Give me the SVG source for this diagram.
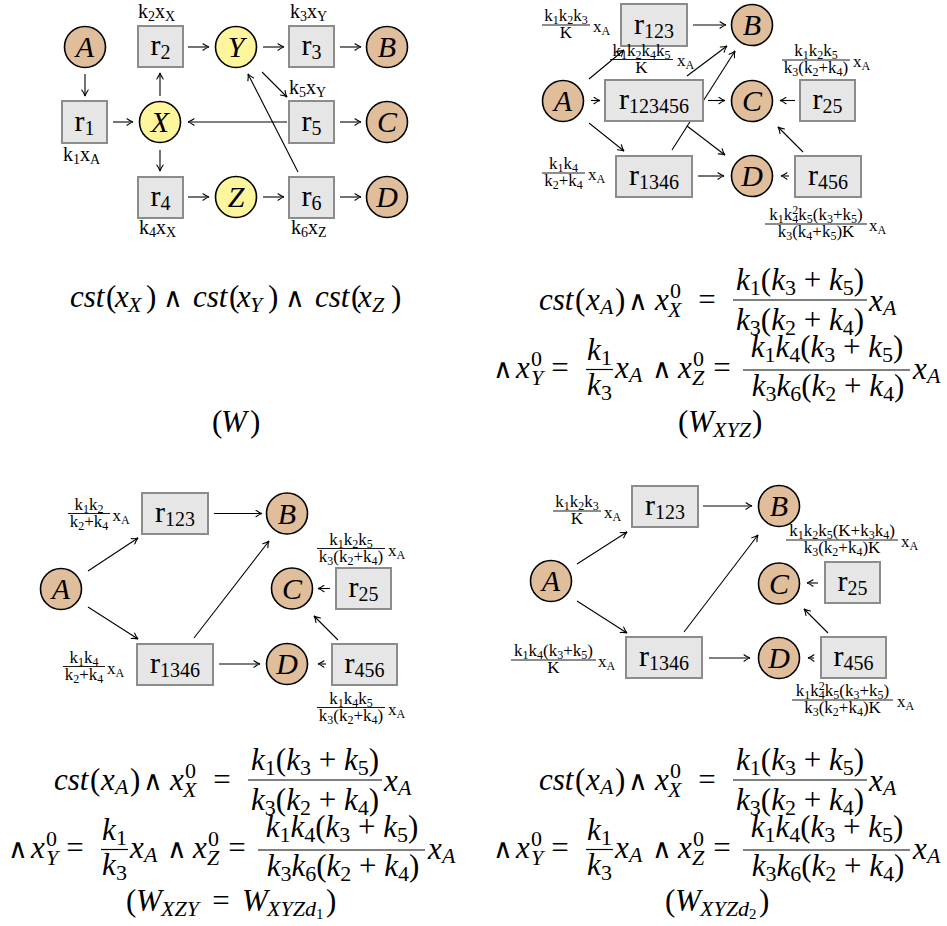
<svg xmlns="http://www.w3.org/2000/svg" width="947" height="926" viewBox="0 0 947 926">
<defs>
<style>
.nc{fill:#e0bd9b;stroke:#000;stroke-width:1.6}
.ny{fill:#fff59c;stroke:#000;stroke-width:1.6}
.box{fill:#e6e6e6;stroke:#8c8c8c;stroke-width:2}
.lt{font-family:"Liberation Serif","Times New Roman",serif;font-style:italic;font-size:30px;text-anchor:middle}
.rl{font-family:"Liberation Serif","Times New Roman",serif;font-size:30px;text-anchor:middle}
.rs{font-size:20px}
.kl{font-family:"Liberation Serif","Times New Roman",serif;font-size:20px}
.ks{font-size:14px}
.f{font-family:"Liberation Serif","Times New Roman",serif;font-size:17px}
.fc{text-anchor:middle}
.fs{font-size:12px}
.m{font-family:"Liberation Serif","Times New Roman",serif;font-size:31px;font-style:italic}
.u{font-style:normal}
.ms{font-size:22px;font-style:normal}
.mi{font-size:22px;font-style:italic}
.mss{font-size:15px;font-style:normal}
.op{font-family:"DejaVu Serif",serif;font-size:27px;text-anchor:middle}
.eq{font-family:"Liberation Serif","Times New Roman",serif;font-size:31px;text-anchor:middle}
.c{fill:none;stroke:#000;stroke-width:1.1;marker-end:url(#ah)}
.bar{stroke:#000;stroke-width:1.2}
.fb{stroke:#000;stroke-width:0.9}
</style>
<marker id="ah" viewBox="-7 -4 8 8" refX="0" refY="0" markerWidth="8" markerHeight="8" markerUnits="userSpaceOnUse" orient="auto">
<path d="M-6,-3.2 Q-2.5,-0.6 0,0 Q-2.5,0.6 -6,3.2" fill="none" stroke="#000" stroke-width="1.1" stroke-linecap="round"/>
</marker>
</defs>

<!-- ===== Connectors ===== -->
<g id="connectors">
<g id="tl-edges">
<line class="c" x1="85" y1="74" x2="85" y2="96"/>
<line class="c" x1="113" y1="122" x2="133" y2="122"/>
<line class="c" x1="160" y1="96" x2="160" y2="73"/>
<line class="c" x1="160" y1="150" x2="160" y2="171"/>
<line class="c" x1="188" y1="47" x2="209" y2="47"/>
<line class="c" x1="263" y1="47" x2="284" y2="47"/>
<line class="c" x1="340" y1="47" x2="361" y2="47"/>
<line class="c" x1="287" y1="122" x2="188" y2="122"/>
<line class="c" x1="340" y1="122" x2="361" y2="122"/>
<line class="c" x1="188" y1="197" x2="209" y2="197"/>
<line class="c" x1="263" y1="197" x2="284" y2="197"/>
<line class="c" x1="340" y1="197" x2="361" y2="197"/>
<line class="c" x1="262" y1="72" x2="287" y2="97"/>
<line class="c" x1="298" y1="172" x2="248" y2="74"/>
</g>
<g id="tr-edges">
<line class="c" x1="693" y1="25" x2="726" y2="25"/>
<line class="c" x1="589" y1="79" x2="624" y2="50"/>
<line class="c" x1="591" y1="100.5" x2="600" y2="100.5"/>
<line class="c" x1="589" y1="123" x2="624" y2="151"/>
<line class="c" x1="687" y1="76" x2="727" y2="46"/>
<line class="c" x1="708" y1="100.5" x2="725" y2="100.5"/>
<line class="c" x1="687" y1="126" x2="725" y2="155"/>
<line class="c" x1="672" y1="150" x2="735" y2="51"/>
<line class="c" x1="698" y1="176" x2="724" y2="176"/>
<line class="c" x1="795" y1="100.5" x2="780" y2="100.5"/>
<line class="c" x1="789" y1="176" x2="781" y2="176"/>
<line class="c" x1="803" y1="152" x2="778" y2="127"/>
</g>
<g id="bl-edges">
<line class="c" x1="214" y1="513.5" x2="262" y2="513.5"/>
<line class="c" x1="88" y1="571" x2="138" y2="538"/>
<line class="c" x1="88" y1="607" x2="138" y2="639"/>
<line class="c" x1="194" y1="638" x2="269" y2="541"/>
<line class="c" x1="219" y1="664" x2="260" y2="664"/>
<line class="c" x1="330" y1="588.5" x2="318" y2="588.5"/>
<line class="c" x1="326" y1="664" x2="318" y2="664"/>
<line class="c" x1="338" y1="640" x2="314" y2="616"/>
</g>
<g id="br-edges">
<line class="c" x1="703" y1="506" x2="752" y2="506"/>
<line class="c" x1="577" y1="564" x2="627" y2="532"/>
<line class="c" x1="577" y1="601" x2="627" y2="633"/>
<line class="c" x1="684" y1="632" x2="758" y2="535"/>
<line class="c" x1="709" y1="658" x2="750" y2="658"/>
<line class="c" x1="818" y1="583" x2="807" y2="583"/>
<line class="c" x1="814" y1="658" x2="808" y2="658"/>
<line class="c" x1="828" y1="633" x2="804" y2="609"/>
</g>
</g>

<!-- ===== Top-left diagram (W) ===== -->
<g id="tl-A"><circle class="nc" cx="85" cy="47" r="20.5"/><text class="lt" x="85" y="57">A</text></g>
<g id="tl-r2"><rect class="box" x="138" y="26" width="45" height="41"/><text class="rl" x="160.5" y="55">r<tspan class="rs" dy="4">2</tspan></text>
<text class="kl" x="138" y="18">k<tspan class="ks" dy="3">2</tspan><tspan dy="-3">x</tspan><tspan class="ks" dy="3">X</tspan></text></g>
<g id="tl-Y"><circle class="ny" cx="236" cy="47" r="20.5"/><text class="lt" x="236" y="57">Y</text></g>
<g id="tl-r3"><rect class="box" x="289" y="26" width="45" height="41"/><text class="rl" x="311.5" y="55">r<tspan class="rs" dy="4">3</tspan></text>
<text class="kl" x="290" y="18">k<tspan class="ks" dy="3">3</tspan><tspan dy="-3">x</tspan><tspan class="ks" dy="3">Y</tspan></text></g>
<g id="tl-B"><circle class="nc" cx="387" cy="47" r="20.5"/><text class="lt" x="387" y="57">B</text></g>
<g id="tl-r1"><rect class="box" x="62" y="101" width="45" height="42"/><text class="rl" x="84.5" y="130.5">r<tspan class="rs" dy="4">1</tspan></text>
<text class="kl" x="63" y="161">k<tspan class="ks" dy="3">1</tspan><tspan dy="-3">x</tspan><tspan class="ks" dy="3">A</tspan></text></g>
<g id="tl-X"><circle class="ny" cx="160" cy="122" r="20.5"/><text class="lt" x="160" y="132">X</text></g>
<g id="tl-r5"><rect class="box" x="289" y="101" width="45" height="42"/><text class="rl" x="311.5" y="130.5">r<tspan class="rs" dy="4">5</tspan></text>
<text class="kl" x="289" y="94">k<tspan class="ks" dy="3">5</tspan><tspan dy="-3">x</tspan><tspan class="ks" dy="3">Y</tspan></text></g>
<g id="tl-C"><circle class="nc" cx="387" cy="122" r="20.5"/><text class="lt" x="387" y="132">C</text></g>
<g id="tl-r4"><rect class="box" x="138" y="177" width="45" height="41"/><text class="rl" x="160.5" y="206">r<tspan class="rs" dy="4">4</tspan></text>
<text class="kl" x="139" y="234">k<tspan class="ks" dy="3">4</tspan><tspan dy="-3">x</tspan><tspan class="ks" dy="3">X</tspan></text></g>
<g id="tl-Z"><circle class="ny" cx="236" cy="197" r="20.5"/><text class="lt" x="236" y="207">Z</text></g>
<g id="tl-r6"><rect class="box" x="289" y="177" width="45" height="41"/><text class="rl" x="311.5" y="206">r<tspan class="rs" dy="4">6</tspan></text>
<text class="kl" x="291" y="234">k<tspan class="ks" dy="3">6</tspan><tspan dy="-3">x</tspan><tspan class="ks" dy="3">Z</tspan></text></g>
<g id="tl-D"><circle class="nc" cx="387" cy="197" r="20.5"/><text class="lt" x="387" y="207">D</text></g>

<g id="tl-formula">
<text class="m" y="307"><tspan x="70">cst</tspan><tspan x="106" class="u">(</tspan><tspan x="115">x</tspan><tspan x="128" y="312" class="mi">X</tspan><tspan x="146" y="307" class="u">)</tspan></text>
<text class="op" x="173" y="307">∧</text>
<text class="m" y="307"><tspan x="193">cst</tspan><tspan x="229" class="u">(</tspan><tspan x="237">x</tspan><tspan x="250" y="312" class="mi">Y</tspan><tspan x="268" y="307" class="u">)</tspan></text>
<text class="op" x="295" y="307">∧</text>
<text class="m" y="307"><tspan x="315">cst</tspan><tspan x="351" class="u">(</tspan><tspan x="358">x</tspan><tspan x="372" y="312" class="mi">Z</tspan><tspan x="391" y="307" class="u">)</tspan></text>
<text class="m" y="432"><tspan x="212" class="u">(</tspan><tspan x="221">W</tspan><tspan x="250" class="u">)</tspan></text>
</g>

<!-- ===== Top-right diagram (W_XYZ) ===== -->
<g id="tr-r123"><rect class="box" x="621" y="4" width="66" height="42"/><text class="rl" x="654" y="33.5">r<tspan class="rs" dy="4">123</tspan></text>
<line class="fb" x1="542" y1="25" x2="590" y2="25"/>
<text class="f fc" x="566" y="21">k<tspan class="fs" dy="3">1</tspan><tspan dy="-3">k</tspan><tspan class="fs" dy="3">2</tspan><tspan dy="-3">k</tspan><tspan class="fs" dy="3">3</tspan></text>
<text class="f fc" x="566" y="38">K</text>
<text class="f" x="593" y="32">x<tspan class="fs" dy="3">A</tspan></text></g>
<g id="tr-B"><circle class="nc" cx="752" cy="25" r="20.5"/><text class="lt" x="752" y="35">B</text></g>
<g id="tr-A"><circle class="nc" cx="563" cy="101" r="20.5"/><text class="lt" x="563" y="111">A</text></g>
<g id="tr-r123456"><rect class="box" x="605" y="80" width="98" height="41"/><text class="rl" x="654" y="109">r<tspan class="rs" dy="4">123456</tspan></text>
<line class="fb" x1="610" y1="59.5" x2="673" y2="59.5"/>
<text class="f fc" x="641.5" y="55.5">k<tspan class="fs" dy="3">1</tspan><tspan dy="-3">k</tspan><tspan class="fs" dy="3">2</tspan><tspan dy="-3">k</tspan><tspan class="fs" dy="3">4</tspan><tspan dy="-3">k</tspan><tspan class="fs" dy="3">5</tspan></text>
<text class="f fc" x="641.5" y="72.5">K</text>
<text class="f" x="677" y="66">x<tspan class="fs" dy="3">A</tspan></text></g>
<g id="tr-C"><circle class="nc" cx="752" cy="101" r="20.5"/><text class="lt" x="752" y="111">C</text></g>
<g id="tr-r25"><rect class="box" x="800" y="80" width="55" height="41"/><text class="rl" x="827.5" y="109">r<tspan class="rs" dy="4">25</tspan></text>
<line class="fb" x1="782" y1="60" x2="850" y2="60"/>
<text class="f fc" x="816" y="56">k<tspan class="fs" dy="3">1</tspan><tspan dy="-3">k</tspan><tspan class="fs" dy="3">2</tspan><tspan dy="-3">k</tspan><tspan class="fs" dy="3">5</tspan></text>
<text class="f fc" x="816" y="73">k<tspan class="fs" dy="3">3</tspan><tspan dy="-3">(k</tspan><tspan class="fs" dy="3">2</tspan><tspan dy="-3">+k</tspan><tspan class="fs" dy="3">4</tspan><tspan dy="-3">)</tspan></text>
<text class="f" x="853" y="67">x<tspan class="fs" dy="3">A</tspan></text></g>
<g id="tr-r1346"><rect class="box" x="616" y="156" width="76" height="41"/><text class="rl" x="654" y="185">r<tspan class="rs" dy="4">1346</tspan></text>
<line class="fb" x1="542" y1="173" x2="585" y2="173"/>
<text class="f fc" x="563.5" y="169">k<tspan class="fs" dy="3">1</tspan><tspan dy="-3">k</tspan><tspan class="fs" dy="3">4</tspan></text>
<text class="f fc" x="563.5" y="186">k<tspan class="fs" dy="3">2</tspan><tspan dy="-3">+k</tspan><tspan class="fs" dy="3">4</tspan></text>
<text class="f" x="588" y="180">x<tspan class="fs" dy="3">A</tspan></text></g>
<g id="tr-D"><circle class="nc" cx="752" cy="176" r="20.5"/><text class="lt" x="752" y="186">D</text></g>
<g id="tr-r456"><rect class="box" x="795" y="156" width="66" height="41"/><text class="rl" x="828" y="185">r<tspan class="rs" dy="4">456</tspan></text>
<line class="fb" x1="765" y1="224" x2="867" y2="224"/>
<text class="f fc" x="816" y="220">k<tspan class="fs" dy="3">1</tspan><tspan dy="-3">k</tspan><tspan class="fs" dy="3">4</tspan><tspan class="fs" dx="-6" dy="-9">2</tspan><tspan dy="6">k</tspan><tspan class="fs" dy="3">5</tspan><tspan dy="-3">(k</tspan><tspan class="fs" dy="3">3</tspan><tspan dy="-3">+k</tspan><tspan class="fs" dy="3">5</tspan><tspan dy="-3">)</tspan></text>
<text class="f fc" x="816" y="237">k<tspan class="fs" dy="3">3</tspan><tspan dy="-3">(k</tspan><tspan class="fs" dy="3">4</tspan><tspan dy="-3">+k</tspan><tspan class="fs" dy="3">5</tspan><tspan dy="-3">)K</tspan></text>
<text class="f" x="869" y="231">x<tspan class="fs" dy="3">A</tspan></text></g>

<!-- ===== Bottom-left diagram ===== -->
<g id="bl-r123"><rect class="box" x="142" y="493" width="66" height="41"/><text class="rl" x="175" y="522">r<tspan class="rs" dy="4">123</tspan></text>
<line class="fb" x1="68" y1="513.5" x2="110" y2="513.5"/>
<text class="f fc" x="89" y="509.5">k<tspan class="fs" dy="3">1</tspan><tspan dy="-3">k</tspan><tspan class="fs" dy="3">2</tspan></text>
<text class="f fc" x="89" y="526.5">k<tspan class="fs" dy="3">2</tspan><tspan dy="-3">+k</tspan><tspan class="fs" dy="3">4</tspan></text>
<text class="f" x="112.5" y="520.5">x<tspan class="fs" dy="3">A</tspan></text></g>
<g id="bl-B"><circle class="nc" cx="287" cy="513.5" r="20.5"/><text class="lt" x="287" y="523.5">B</text></g>
<g id="bl-A"><circle class="nc" cx="61" cy="589" r="20.5"/><text class="lt" x="61" y="599">A</text></g>
<g id="bl-C"><circle class="nc" cx="292" cy="588.5" r="20.5"/><text class="lt" x="292" y="598.5">C</text></g>
<g id="bl-r25"><rect class="box" x="336" y="568" width="55" height="41"/><text class="rl" x="363.5" y="597">r<tspan class="rs" dy="4">25</tspan></text>
<line class="fb" x1="317" y1="548.5" x2="385" y2="548.5"/>
<text class="f fc" x="351" y="544.5">k<tspan class="fs" dy="3">1</tspan><tspan dy="-3">k</tspan><tspan class="fs" dy="3">2</tspan><tspan dy="-3">k</tspan><tspan class="fs" dy="3">5</tspan></text>
<text class="f fc" x="351" y="561.5">k<tspan class="fs" dy="3">3</tspan><tspan dy="-3">(k</tspan><tspan class="fs" dy="3">2</tspan><tspan dy="-3">+k</tspan><tspan class="fs" dy="3">4</tspan><tspan dy="-3">)</tspan></text>
<text class="f" x="388" y="555.5">x<tspan class="fs" dy="3">A</tspan></text></g>
<g id="bl-r1346"><rect class="box" x="137" y="644" width="76" height="41"/><text class="rl" x="175" y="673">r<tspan class="rs" dy="4">1346</tspan></text>
<line class="fb" x1="63" y1="666.5" x2="105" y2="666.5"/>
<text class="f fc" x="84" y="662.5">k<tspan class="fs" dy="3">1</tspan><tspan dy="-3">k</tspan><tspan class="fs" dy="3">4</tspan></text>
<text class="f fc" x="84" y="679.5">k<tspan class="fs" dy="3">2</tspan><tspan dy="-3">+k</tspan><tspan class="fs" dy="3">4</tspan></text>
<text class="f" x="107" y="673.5">x<tspan class="fs" dy="3">A</tspan></text></g>
<g id="bl-D"><circle class="nc" cx="287" cy="664" r="20.5"/><text class="lt" x="287" y="674">D</text></g>
<g id="bl-r456"><rect class="box" x="332" y="644" width="65" height="41"/><text class="rl" x="364.5" y="673">r<tspan class="rs" dy="4">456</tspan></text>
<line class="fb" x1="317" y1="707.5" x2="385" y2="707.5"/>
<text class="f fc" x="351" y="703.5">k<tspan class="fs" dy="3">1</tspan><tspan dy="-3">k</tspan><tspan class="fs" dy="3">4</tspan><tspan dy="-3">k</tspan><tspan class="fs" dy="3">5</tspan></text>
<text class="f fc" x="351" y="720.5">k<tspan class="fs" dy="3">3</tspan><tspan dy="-3">(k</tspan><tspan class="fs" dy="3">2</tspan><tspan dy="-3">+k</tspan><tspan class="fs" dy="3">4</tspan><tspan dy="-3">)</tspan></text>
<text class="f" x="388" y="714.5">x<tspan class="fs" dy="3">A</tspan></text></g>

<!-- ===== Bottom-right diagram ===== -->
<g id="br-r123"><rect class="box" x="632" y="486" width="66" height="41"/><text class="rl" x="665" y="515">r<tspan class="rs" dy="4">123</tspan></text>
<line class="fb" x1="553" y1="511" x2="601" y2="511"/>
<text class="f fc" x="577" y="507">k<tspan class="fs" dy="3">1</tspan><tspan dy="-3">k</tspan><tspan class="fs" dy="3">2</tspan><tspan dy="-3">k</tspan><tspan class="fs" dy="3">3</tspan></text>
<text class="f fc" x="577" y="524">K</text>
<text class="f" x="604" y="518">x<tspan class="fs" dy="3">A</tspan></text></g>
<g id="br-B"><circle class="nc" cx="779" cy="506" r="20.5"/><text class="lt" x="779" y="516">B</text></g>
<g id="br-A"><circle class="nc" cx="551" cy="581" r="20.5"/><text class="lt" x="551" y="591">A</text></g>
<g id="br-C"><circle class="nc" cx="779" cy="583.5" r="20.5"/><text class="lt" x="779" y="593.5">C</text></g>
<g id="br-r25"><rect class="box" x="825" y="562" width="55" height="41"/><text class="rl" x="852.5" y="591">r<tspan class="rs" dy="4">25</tspan></text>
<line class="fb" x1="786" y1="540" x2="898" y2="540"/>
<text class="f fc" x="842" y="536">k<tspan class="fs" dy="3">1</tspan><tspan dy="-3">k</tspan><tspan class="fs" dy="3">2</tspan><tspan dy="-3">k</tspan><tspan class="fs" dy="3">5</tspan><tspan dy="-3">(K+k</tspan><tspan class="fs" dy="3">3</tspan><tspan dy="-3">k</tspan><tspan class="fs" dy="3">4</tspan><tspan dy="-3">)</tspan></text>
<text class="f fc" x="842" y="553">k<tspan class="fs" dy="3">3</tspan><tspan dy="-3">(k</tspan><tspan class="fs" dy="3">2</tspan><tspan dy="-3">+k</tspan><tspan class="fs" dy="3">4</tspan><tspan dy="-3">)K</tspan></text>
<text class="f" x="901" y="547">x<tspan class="fs" dy="3">A</tspan></text></g>
<g id="br-r1346"><rect class="box" x="626" y="637" width="76" height="41"/><text class="rl" x="664" y="666">r<tspan class="rs" dy="4">1346</tspan></text>
<line class="fb" x1="511" y1="660" x2="596" y2="660"/>
<text class="f fc" x="553.5" y="656">k<tspan class="fs" dy="3">1</tspan><tspan dy="-3">k</tspan><tspan class="fs" dy="3">4</tspan><tspan dy="-3">(k</tspan><tspan class="fs" dy="3">3</tspan><tspan dy="-3">+k</tspan><tspan class="fs" dy="3">5</tspan><tspan dy="-3">)</tspan></text>
<text class="f fc" x="553.5" y="673">K</text>
<text class="f" x="598" y="667">x<tspan class="fs" dy="3">A</tspan></text></g>
<g id="br-D"><circle class="nc" cx="779" cy="658" r="20.5"/><text class="lt" x="779" y="668">D</text></g>
<g id="br-r456"><rect class="box" x="821" y="637" width="65" height="41"/><text class="rl" x="853.5" y="666">r<tspan class="rs" dy="4">456</tspan></text>
<line class="fb" x1="792" y1="700" x2="893" y2="700"/>
<text class="f fc" x="842.5" y="696">k<tspan class="fs" dy="3">1</tspan><tspan dy="-3">k</tspan><tspan class="fs" dy="3">4</tspan><tspan class="fs" dx="-6" dy="-9">2</tspan><tspan dy="6">k</tspan><tspan class="fs" dy="3">5</tspan><tspan dy="-3">(k</tspan><tspan class="fs" dy="3">3</tspan><tspan dy="-3">+k</tspan><tspan class="fs" dy="3">5</tspan><tspan dy="-3">)</tspan></text>
<text class="f fc" x="842.5" y="713">k<tspan class="fs" dy="3">3</tspan><tspan dy="-3">(k</tspan><tspan class="fs" dy="3">2</tspan><tspan dy="-3">+k</tspan><tspan class="fs" dy="3">4</tspan><tspan dy="-3">)K</tspan></text>
<text class="f" x="897" y="707">x<tspan class="fs" dy="3">A</tspan></text></g>

<!-- ===== Formulas ===== -->
<g id="bl-formula">
<text class="m" y="790"><tspan x="54">cst</tspan><tspan x="90" class="u">(</tspan><tspan x="101">x</tspan><tspan x="115" y="794" class="mi">A</tspan><tspan x="130" y="790" class="u">)</tspan></text>
<text class="op" x="153" y="790">∧</text>
<text class="m" y="790"><tspan x="170">x</tspan><tspan x="185" y="778" class="ms">0</tspan><tspan x="183" y="797" class="mi">X</tspan></text>
<text class="eq" x="222" y="790">=</text>
<line class="bar" x1="248" y1="780" x2="382" y2="780"/>
<text class="m" x="315" y="770" text-anchor="middle">k<tspan class="ms" dy="5">1</tspan><tspan class="u" dy="-5">(</tspan>k<tspan class="ms" dy="5">3</tspan><tspan class="u" dy="-5"> + </tspan>k<tspan class="ms" dy="5">5</tspan><tspan class="u" dy="-5">)</tspan></text>
<text class="m" x="315" y="810" text-anchor="middle">k<tspan class="ms" dy="5">3</tspan><tspan class="u" dy="-5">(</tspan>k<tspan class="ms" dy="5">2</tspan><tspan class="u" dy="-5"> + </tspan>k<tspan class="ms" dy="5">4</tspan><tspan class="u" dy="-5">)</tspan></text>
<text class="m" y="791"><tspan x="384">x</tspan><tspan x="398" y="795" class="mi">A</tspan></text>
<text class="op" x="18" y="858">∧</text>
<text class="m" y="858"><tspan x="31">x</tspan><tspan x="46" y="846" class="ms">0</tspan><tspan x="46" y="865" class="mi">Y</tspan></text>
<text class="eq" x="75" y="858">=</text>
<line class="bar" x1="101" y1="849.5" x2="128" y2="849.5"/>
<text class="m" x="114.5" y="840" text-anchor="middle">k<tspan class="ms" dy="5">1</tspan></text>
<text class="m" x="114.5" y="875" text-anchor="middle">k<tspan class="ms" dy="5">3</tspan></text>
<text class="m" y="858"><tspan x="130">x</tspan><tspan x="144" y="862" class="mi">A</tspan></text>
<text class="op" x="177" y="858">∧</text>
<text class="m" y="858"><tspan x="193">x</tspan><tspan x="208" y="846" class="ms">0</tspan><tspan x="207" y="865" class="mi">Z</tspan></text>
<text class="eq" x="237" y="858">=</text>
<line class="bar" x1="258" y1="850" x2="425" y2="850"/>
<text class="m" x="342" y="837" text-anchor="middle">k<tspan class="ms" dy="5">1</tspan><tspan dy="-5">k</tspan><tspan class="ms" dy="5">4</tspan><tspan class="u" dy="-5">(</tspan>k<tspan class="ms" dy="5">3</tspan><tspan class="u" dy="-5"> + </tspan>k<tspan class="ms" dy="5">5</tspan><tspan class="u" dy="-5">)</tspan></text>
<text class="m" x="343" y="876" text-anchor="middle">k<tspan class="ms" dy="5">3</tspan><tspan dy="-5">k</tspan><tspan class="ms" dy="5">6</tspan><tspan class="u" dy="-5">(</tspan>k<tspan class="ms" dy="5">2</tspan><tspan class="u" dy="-5"> + </tspan>k<tspan class="ms" dy="5">4</tspan><tspan class="u" dy="-5">)</tspan></text>
<text class="m" y="859"><tspan x="428">x</tspan><tspan x="442" y="863" class="mi">A</tspan></text>
<text class="m" y="911"><tspan x="126" class="u">(</tspan><tspan x="136">W</tspan><tspan x="161" y="916" class="mi">XZY</tspan></text>
<text class="eq" x="221" y="911">=</text>
<text class="m" y="911"><tspan x="242">W</tspan><tspan x="267" y="916" class="mi">XYZd</tspan><tspan x="316" y="919" class="mss">1</tspan><tspan x="326" y="911" class="u">)</tspan></text>
</g>

<g id="tr-formula">
<g transform="translate(485,-480)">
<text class="m" y="790"><tspan x="54">cst</tspan><tspan x="90" class="u">(</tspan><tspan x="101">x</tspan><tspan x="115" y="794" class="mi">A</tspan><tspan x="130" y="790" class="u">)</tspan></text>
<text class="op" x="153" y="790">∧</text>
<text class="m" y="790"><tspan x="170">x</tspan><tspan x="185" y="778" class="ms">0</tspan><tspan x="183" y="797" class="mi">X</tspan></text>
<text class="eq" x="222" y="790">=</text>
<line class="bar" x1="248" y1="780" x2="382" y2="780"/>
<text class="m" x="315" y="770" text-anchor="middle">k<tspan class="ms" dy="5">1</tspan><tspan class="u" dy="-5">(</tspan>k<tspan class="ms" dy="5">3</tspan><tspan class="u" dy="-5"> + </tspan>k<tspan class="ms" dy="5">5</tspan><tspan class="u" dy="-5">)</tspan></text>
<text class="m" x="315" y="810" text-anchor="middle">k<tspan class="ms" dy="5">3</tspan><tspan class="u" dy="-5">(</tspan>k<tspan class="ms" dy="5">2</tspan><tspan class="u" dy="-5"> + </tspan>k<tspan class="ms" dy="5">4</tspan><tspan class="u" dy="-5">)</tspan></text>
<text class="m" y="791"><tspan x="384">x</tspan><tspan x="398" y="795" class="mi">A</tspan></text>
<text class="op" x="18" y="858">∧</text>
<text class="m" y="858"><tspan x="31">x</tspan><tspan x="46" y="846" class="ms">0</tspan><tspan x="46" y="865" class="mi">Y</tspan></text>
<text class="eq" x="75" y="858">=</text>
<line class="bar" x1="101" y1="849.5" x2="128" y2="849.5"/>
<text class="m" x="114.5" y="840" text-anchor="middle">k<tspan class="ms" dy="5">1</tspan></text>
<text class="m" x="114.5" y="875" text-anchor="middle">k<tspan class="ms" dy="5">3</tspan></text>
<text class="m" y="858"><tspan x="130">x</tspan><tspan x="144" y="862" class="mi">A</tspan></text>
<text class="op" x="177" y="858">∧</text>
<text class="m" y="858"><tspan x="193">x</tspan><tspan x="208" y="846" class="ms">0</tspan><tspan x="207" y="865" class="mi">Z</tspan></text>
<text class="eq" x="237" y="858">=</text>
<line class="bar" x1="258" y1="850" x2="425" y2="850"/>
<text class="m" x="342" y="837" text-anchor="middle">k<tspan class="ms" dy="5">1</tspan><tspan dy="-5">k</tspan><tspan class="ms" dy="5">4</tspan><tspan class="u" dy="-5">(</tspan>k<tspan class="ms" dy="5">3</tspan><tspan class="u" dy="-5"> + </tspan>k<tspan class="ms" dy="5">5</tspan><tspan class="u" dy="-5">)</tspan></text>
<text class="m" x="343" y="876" text-anchor="middle">k<tspan class="ms" dy="5">3</tspan><tspan dy="-5">k</tspan><tspan class="ms" dy="5">6</tspan><tspan class="u" dy="-5">(</tspan>k<tspan class="ms" dy="5">2</tspan><tspan class="u" dy="-5"> + </tspan>k<tspan class="ms" dy="5">4</tspan><tspan class="u" dy="-5">)</tspan></text>
<text class="m" y="859"><tspan x="428">x</tspan><tspan x="442" y="863" class="mi">A</tspan></text>
</g>
<text class="m" y="432"><tspan x="678" class="u">(</tspan><tspan x="688">W</tspan><tspan x="713" y="437" class="mi">XYZ</tspan><tspan x="752" y="432" class="u">)</tspan></text>
</g>

<g id="br-formula">
<g transform="translate(485,0)">
<text class="m" y="790"><tspan x="54">cst</tspan><tspan x="90" class="u">(</tspan><tspan x="101">x</tspan><tspan x="115" y="794" class="mi">A</tspan><tspan x="130" y="790" class="u">)</tspan></text>
<text class="op" x="153" y="790">∧</text>
<text class="m" y="790"><tspan x="170">x</tspan><tspan x="185" y="778" class="ms">0</tspan><tspan x="183" y="797" class="mi">X</tspan></text>
<text class="eq" x="222" y="790">=</text>
<line class="bar" x1="248" y1="780" x2="382" y2="780"/>
<text class="m" x="315" y="770" text-anchor="middle">k<tspan class="ms" dy="5">1</tspan><tspan class="u" dy="-5">(</tspan>k<tspan class="ms" dy="5">3</tspan><tspan class="u" dy="-5"> + </tspan>k<tspan class="ms" dy="5">5</tspan><tspan class="u" dy="-5">)</tspan></text>
<text class="m" x="315" y="810" text-anchor="middle">k<tspan class="ms" dy="5">3</tspan><tspan class="u" dy="-5">(</tspan>k<tspan class="ms" dy="5">2</tspan><tspan class="u" dy="-5"> + </tspan>k<tspan class="ms" dy="5">4</tspan><tspan class="u" dy="-5">)</tspan></text>
<text class="m" y="791"><tspan x="384">x</tspan><tspan x="398" y="795" class="mi">A</tspan></text>
<text class="op" x="18" y="858">∧</text>
<text class="m" y="858"><tspan x="31">x</tspan><tspan x="46" y="846" class="ms">0</tspan><tspan x="46" y="865" class="mi">Y</tspan></text>
<text class="eq" x="75" y="858">=</text>
<line class="bar" x1="101" y1="849.5" x2="128" y2="849.5"/>
<text class="m" x="114.5" y="840" text-anchor="middle">k<tspan class="ms" dy="5">1</tspan></text>
<text class="m" x="114.5" y="875" text-anchor="middle">k<tspan class="ms" dy="5">3</tspan></text>
<text class="m" y="858"><tspan x="130">x</tspan><tspan x="144" y="862" class="mi">A</tspan></text>
<text class="op" x="177" y="858">∧</text>
<text class="m" y="858"><tspan x="193">x</tspan><tspan x="208" y="846" class="ms">0</tspan><tspan x="207" y="865" class="mi">Z</tspan></text>
<text class="eq" x="237" y="858">=</text>
<line class="bar" x1="258" y1="850" x2="425" y2="850"/>
<text class="m" x="342" y="837" text-anchor="middle">k<tspan class="ms" dy="5">1</tspan><tspan dy="-5">k</tspan><tspan class="ms" dy="5">4</tspan><tspan class="u" dy="-5">(</tspan>k<tspan class="ms" dy="5">3</tspan><tspan class="u" dy="-5"> + </tspan>k<tspan class="ms" dy="5">5</tspan><tspan class="u" dy="-5">)</tspan></text>
<text class="m" x="343" y="876" text-anchor="middle">k<tspan class="ms" dy="5">3</tspan><tspan dy="-5">k</tspan><tspan class="ms" dy="5">6</tspan><tspan class="u" dy="-5">(</tspan>k<tspan class="ms" dy="5">2</tspan><tspan class="u" dy="-5"> + </tspan>k<tspan class="ms" dy="5">4</tspan><tspan class="u" dy="-5">)</tspan></text>
<text class="m" y="859"><tspan x="428">x</tspan><tspan x="442" y="863" class="mi">A</tspan></text>
</g>
<text class="m" y="911"><tspan x="665" class="u">(</tspan><tspan x="675">W</tspan><tspan x="700" y="916" class="mi">XYZd</tspan><tspan x="749" y="919" class="mss">2</tspan><tspan x="759" y="911" class="u">)</tspan></text>
</g>
</svg>
